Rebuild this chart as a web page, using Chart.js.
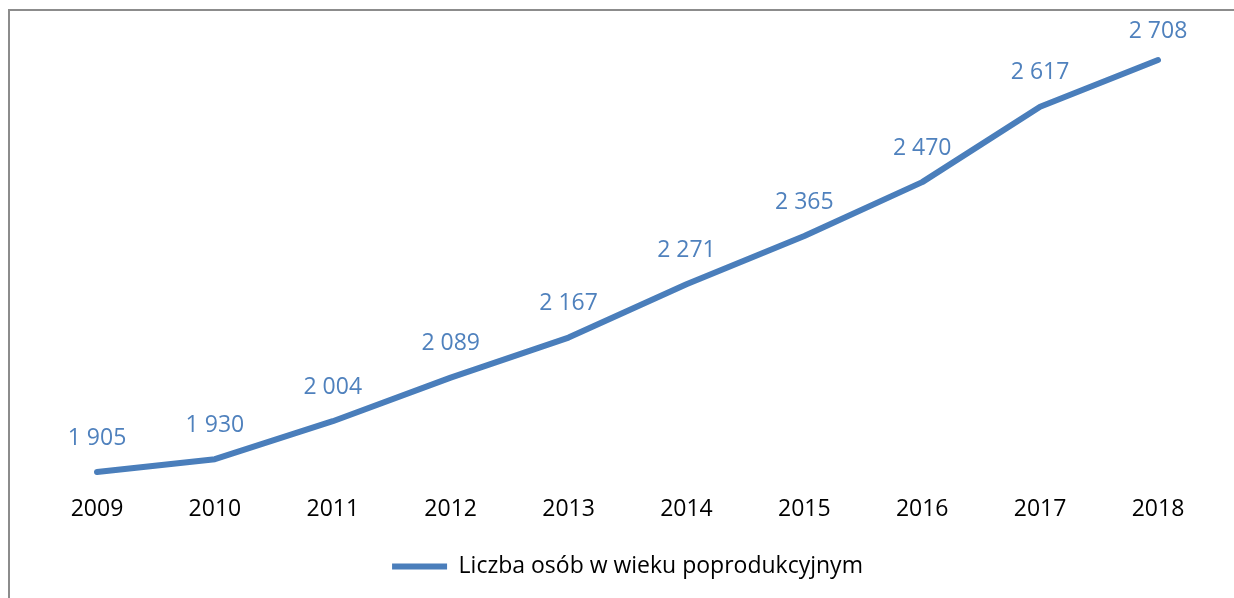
<!DOCTYPE html>
<html>
<head>
<meta charset="utf-8">
<script src="https://cdn.jsdelivr.net/npm/chart.js@4"></script>
<style>
    body { margin: 0; background: #fff; }
    .frame {
        position: absolute; left: 0; top: 0; width: 1234px; height: 598px; overflow: hidden;
    }
    .frame-border {
        position: absolute; left: 8px; top: 9px; width: 1300px; height: 700px;
        border-left: 2px solid #8c8c8c; border-top: 2px solid #8c8c8c;
    }
    canvas { position: absolute; left: 0; top: 0; }
</style>
</head>
<body>
<div class="frame">
    <div class="frame-border"></div>
    <canvas id="lineChart" width="1234" height="598"></canvas>
</div>
<script>
    // Dane wykresu
    const years = ['2009', '2010', '2011', '2012', '2013', '2014', '2015', '2016', '2017', '2018'];
    const seniors = [1905, 1930, 2004, 2089, 2167, 2271, 2365, 2470, 2617, 2708];
    const seriesName = 'Liczba osób w wieku poprodukcyjnym';

    const lineColor = '#4a7ebb';
    const fontFamily = '"Open Sans", "Noto Sans", sans-serif';

    // Liczby z odstępem tysięcy: 1 905
    function formatNumber(v) {
        return String(v).replace(/\B(?=(\d{3})+(?!\d))/g, ' ');
    }

    // Etykiety danych nad punktami
    const dataLabels = {
        id: 'dataLabels',
        afterDatasetsDraw(chart) {
            const ctx = chart.ctx;
            const meta = chart.getDatasetMeta(0);
            ctx.save();
            ctx.fillStyle = '#4f81bd';
            ctx.font = '23px ' + fontFamily;
            ctx.textAlign = 'center';
            ctx.textBaseline = 'middle';
            meta.data.forEach((pt, i) => {
                const y = Math.max(pt.y - 34, 31);
                ctx.fillText(formatNumber(seniors[i]), pt.x, y);
            });
            ctx.restore();
        }
    };

    const ctx = document.getElementById('lineChart').getContext('2d');
    new Chart(ctx, {
        type: 'line',
        data: {
            labels: years,
            datasets: [{
                label: seriesName,
                data: seniors,
                borderColor: lineColor,
                backgroundColor: lineColor,
                borderWidth: 6,
                borderCapStyle: 'round',
                borderJoinStyle: 'round',
                pointRadius: 0,
                tension: 0,
                fill: false
            }]
        },
        options: {
            responsive: false,
            animation: false,
            layout: { padding: { top: 20, left: 97, right: 76, bottom: 10 } },
            scales: {
                x: {
                    offset: false,
                    grid: { display: false, drawTicks: false },
                    border: { display: false },
                    ticks: { color: '#000', padding: 8, font: { family: fontFamily, size: 23 } },
                    // odstęp między etykietami lat a legendą
                    afterFit(scale) { scale.height += 14; }
                },
                y: { display: false, min: 1875, max: 2786 }
            },
            plugins: {
                legend: {
                    position: 'bottom',
                    labels: {
                        color: '#000',
                        font: { family: fontFamily, size: 23 },
                        usePointStyle: true,
                        pointStyle: 'line',
                        pointStyleWidth: 55,
                        boxHeight: 5,
                        padding: 10
                    }
                },
                tooltip: { enabled: false }
            }
        },
        plugins: [dataLabels]
    });
</script>
</body>
</html>
